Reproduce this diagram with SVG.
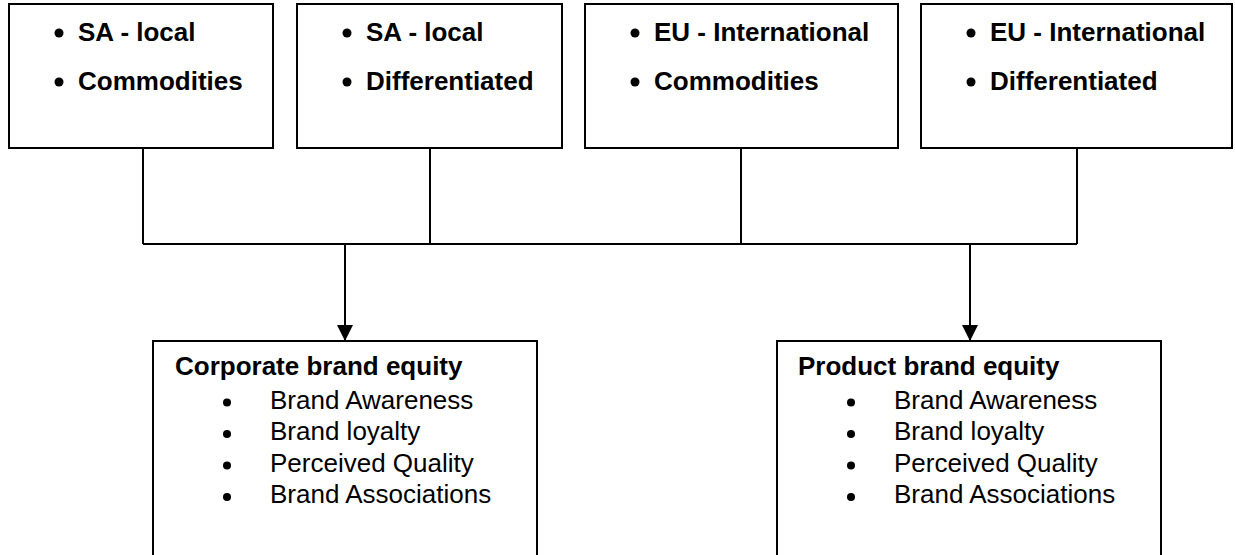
<svg xmlns="http://www.w3.org/2000/svg" width="1235" height="555" viewBox="0 0 1235 555">
  <style>
    .box { fill: #ffffff; stroke: #000000; stroke-width: 2; }
    .wire { fill: none; stroke: #000000; stroke-width: 2; }
    .hd { font-family: "Liberation Sans", Arial, sans-serif; font-size: 26px; font-weight: bold; fill: #000000; }
    .it { font-family: "Liberation Sans", Arial, sans-serif; font-size: 26px; fill: #000000; }
    .dot { fill: #000000; }
  </style>
  <defs>
    <marker id="arrow" markerWidth="16" markerHeight="16" refX="16" refY="8" orient="auto" markerUnits="userSpaceOnUse">
      <path d="M0,0 L16,8 L0,16 Z" fill="#000000"/>
    </marker>
  </defs>

  <rect width="1235" height="555" fill="#ffffff"/>

  <!-- connectors -->
  <g id="connectors">
    <path class="wire" d="M143,148 V244 M430,148 V244 M741,148 V244 M1077,148 V244 M143,244 H1077"/>
    <path class="wire" d="M345,244 V341" marker-end="url(#arrow)"/>
    <path class="wire" d="M970,244 V341" marker-end="url(#arrow)"/>
  </g>

  <!-- source segments -->
  <g id="sa-commodities">
    <rect class="box" x="9" y="4" width="264" height="144"/>
    <circle class="dot" cx="59" cy="33" r="4.5"/>
    <text class="hd" x="78" y="41">SA - local</text>
    <circle class="dot" cx="59" cy="82" r="4.5"/>
    <text class="hd" x="78" y="90">Commodities</text>
  </g>

  <g id="sa-differentiated">
    <rect class="box" x="297" y="4" width="265" height="144"/>
    <circle class="dot" cx="347" cy="33" r="4.5"/>
    <text class="hd" x="366" y="41">SA - local</text>
    <circle class="dot" cx="347" cy="82" r="4.5"/>
    <text class="hd" x="366" y="90">Differentiated</text>
  </g>

  <g id="eu-commodities">
    <rect class="box" x="585" y="4" width="313" height="144"/>
    <circle class="dot" cx="635" cy="33" r="4.5"/>
    <text class="hd" x="654" y="41">EU - International</text>
    <circle class="dot" cx="635" cy="82" r="4.5"/>
    <text class="hd" x="654" y="90">Commodities</text>
  </g>

  <g id="eu-differentiated">
    <rect class="box" x="921" y="4" width="311" height="144"/>
    <circle class="dot" cx="971" cy="33" r="4.5"/>
    <text class="hd" x="990" y="41">EU - International</text>
    <circle class="dot" cx="971" cy="82" r="4.5"/>
    <text class="hd" x="990" y="90">Differentiated</text>
  </g>

  <!-- brand equity outcomes -->
  <g id="corporate-equity">
    <rect class="box" x="153" y="341" width="384" height="230"/>
    <text class="hd" x="175" y="375">Corporate brand equity</text>
    <circle class="dot" cx="227" cy="402.5" r="4"/>
    <text class="it" x="270" y="408.5">Brand Awareness</text>
    <circle class="dot" cx="227" cy="434" r="4"/>
    <text class="it" x="270" y="440">Brand loyalty</text>
    <circle class="dot" cx="227" cy="465.5" r="4"/>
    <text class="it" x="270" y="471.5">Perceived Quality</text>
    <circle class="dot" cx="227" cy="497" r="4"/>
    <text class="it" x="270" y="503">Brand Associations</text>
  </g>

  <g id="product-equity">
    <rect class="box" x="777" y="341" width="384" height="230"/>
    <text class="hd" x="798" y="375">Product brand equity</text>
    <circle class="dot" cx="851" cy="402.5" r="4"/>
    <text class="it" x="894" y="408.5">Brand Awareness</text>
    <circle class="dot" cx="851" cy="434" r="4"/>
    <text class="it" x="894" y="440">Brand loyalty</text>
    <circle class="dot" cx="851" cy="465.5" r="4"/>
    <text class="it" x="894" y="471.5">Perceived Quality</text>
    <circle class="dot" cx="851" cy="497" r="4"/>
    <text class="it" x="894" y="503">Brand Associations</text>
  </g>
</svg>
